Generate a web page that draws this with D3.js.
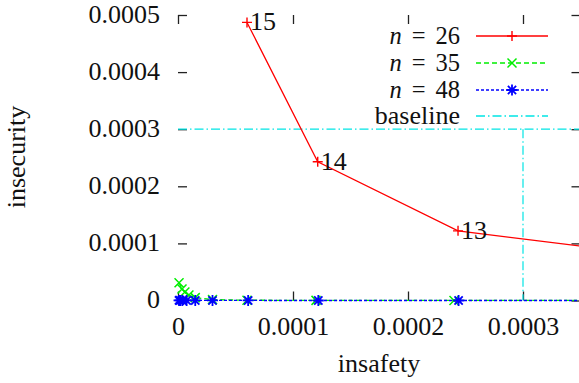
<!DOCTYPE html>
<html><head><meta charset="utf-8">
<script src="https://cdn.jsdelivr.net/npm/d3@7"></script>
<style>
html,body{margin:0;padding:0;background:#fff;}
svg{display:block;}
text{font-family:"Liberation Serif","Tinos","DejaVu Serif",serif;fill:#111;}
</style></head>
<body>
<svg id="chart" width="579" height="383"></svg>
<script>
// ---- data ----
const xTicks = [0, 0.0001, 0.0002, 0.0003];
const yTicks = [0, 0.0001, 0.0002, 0.0003, 0.0004, 0.0005];
const xTickLabels = ["0", "0.0001", "0.0002", "0.0003"];
const yTickLabels = ["0", "0.0001", "0.0002", "0.0003", "0.0004", "0.0005"];

const n26X = [6.0e-5, 1.215e-4, 2.435e-4, 4.87e-4];
const n26Y = [4.87e-4, 2.43e-4, 1.22e-4, 6.1e-5];
const n26Labels = ["15", "14", "13", "12"];

const n35X = [0.9e-6, 3.5e-6, 6.0e-6, 9.5e-6, 1.5e-5, 3.0e-5, 6.0e-5, 1.2e-4, 2.4e-4, 4.8e-4];
const n35Y = [3.1e-5, 2.0e-5, 1.5e-5, 9.6e-6, 5.0e-6, 1.5e-6, 5e-7, 2e-7, 1e-7, 5e-8];

const n48X = [0.9e-6, 1.9e-6, 3.75e-6, 7.5e-6, 1.5e-5, 3.0e-5, 6.1e-5, 1.22e-4, 2.44e-4, 4.88e-4];
const n48Y = [2e-7, 2e-7, 1e-7, 1e-7, 1e-7, 5e-8, 5e-8, 2e-8, 1e-8, 1e-8];

const baseH_X = [0, 0.0004];
const baseH_Y = [0.0003, 0.0003];
const baseV_X = [0.0003, 0.0003];
const baseV_Y = [0.0003, 0];

const legendLabels = [["n", "26"], ["n", "35"], ["n", "48"], [null, "baseline"]];

// ---- layout ----
const FONT = '"Liberation Serif","Tinos","DejaVu Serif",serif';
const svg = d3.select("#chart");
const x = d3.scaleLinear().domain([0, 0.00035]).range([178, 580.5]);
const y = d3.scaleLinear().domain([0, 0.0005]).range([300.5, 15]);
const FS = 26;
const LFS = 24.5;

svg.append("defs").append("clipPath").attr("id","clip")
  .append("rect").attr("x",x(0)-6).attr("y",y(0.0005))
  .attr("width",x(0.00035)-x(0)+6).attr("height",y(0)-y(0.0005)+6);

function styleAxis(g, showLabels){
  g.attr("font-family",FONT);
  g.select(".domain").remove();
  g.selectAll(".tick line").attr("stroke","#222").attr("stroke-width",1.3);
  g.selectAll(".tick text").attr("font-size",FS).attr("fill","#111")
    .attr("font-family",FONT);
  if(!showLabels) g.selectAll(".tick text").remove();
}

// axes (ticks inward, mirrored)
svg.append("g").attr("transform",`translate(${x(0)},0)`)
  .call(d3.axisLeft(y).tickValues(yTicks).tickSize(-9).tickPadding(18)
        .tickFormat((d,i)=>yTickLabels[i]))
  .call(g=>styleAxis(g,true))
  .call(g=>g.selectAll(".tick text").attr("dy","0.27em"));
svg.append("g").attr("transform",`translate(${x(0.00035)},0)`)
  .call(d3.axisRight(y).tickValues(yTicks).tickSize(-9))
  .call(g=>styleAxis(g,false));
svg.append("g").attr("transform",`translate(0,${y(0)})`)
  .call(d3.axisBottom(x).tickValues(xTicks).tickSize(-9).tickPadding(16)
        .tickFormat((d,i)=>xTickLabels[i]))
  .call(g=>styleAxis(g,true));
svg.append("g").attr("transform",`translate(0,${y(0.0005)})`)
  .call(d3.axisTop(x).tickValues(xTicks).tickSize(-9))
  .call(g=>styleAxis(g,false));

// axis titles
svg.append("text").attr("x",379).attr("y",372).attr("text-anchor","middle")
  .attr("font-size",FS).text("insafety");
svg.append("text").attr("transform","translate(25,157) rotate(-90)")
  .attr("text-anchor","middle").attr("font-size",FS).text("insecurity");

const plot = svg.append("g").attr("clip-path","url(#clip)");
const line = d3.line().x(d=>x(d[0])).y(d=>y(d[1]));
const zip = (a,b)=>a.map((v,i)=>[v,b[i]]);

// baseline
const cyan = "#00e5e5";
const baseDash = "9,3,1.5,3";
plot.append("path").datum(zip(baseH_X,baseH_Y)).attr("d",line)
  .attr("fill","none").attr("stroke",cyan).attr("stroke-width",1.2).attr("stroke-dasharray",baseDash);
plot.append("path").datum(zip(baseV_X,baseV_Y)).attr("d",line)
  .attr("fill","none").attr("stroke",cyan).attr("stroke-width",1.2).attr("stroke-dasharray",baseDash);

// marker drawing
function markerPath(type, s){
  if(type==="plus") return `M${-s},0H${s}M0,${-s}V${s}`;
  if(type==="cross") return `M${-s},${-s}L${s},${s}M${-s},${s}L${s},${-s}`;
  return `M${-s},0H${s}M0,${-s}V${s}M${-s*0.75},${-s*0.75}L${s*0.75},${s*0.75}M${-s*0.75},${s*0.75}L${s*0.75},${-s*0.75}`;
}
const series = [
  {xs:n35X, ys:n35Y, color:"#00ee00", dash:"5,3", marker:"cross", size:4.5, sw:1.5},
  {xs:n48X, ys:n48Y, color:"#0000ff", dash:"3,2", marker:"star", size:5.5, sw:1.8},
  {xs:n26X, ys:n26Y, color:"#ff0000", dash:null, marker:"plus", size:5, sw:1.4}
];
series.forEach(s=>{
  const pts = zip(s.xs,s.ys);
  const p = plot.append("path").datum(pts).attr("d",line).attr("fill","none")
    .attr("stroke",s.color).attr("stroke-width",1.3);
  if(s.dash) p.attr("stroke-dasharray",s.dash);
  plot.selectAll(null).data(pts).enter().append("path")
    .attr("transform",d=>`translate(${x(d[0])},${y(d[1])})`)
    .attr("d",markerPath(s.marker,s.size)).attr("fill","none")
    .attr("stroke",s.color).attr("stroke-width",s.sw);
});

// point labels for n=26
svg.selectAll(null).data(zip(n26X,n26Y).map((d,i)=>[d[0],d[1],n26Labels[i]])).enter()
  .filter(d=>d[0]<=0.00035).append("text")
  .attr("x",d=>x(d[0])+3).attr("y",d=>y(d[1])+8)
  .attr("font-size",FS).text(d=>d[2]);

// legend
const legItems = [
  {color:"#ff0000", dash:null, marker:"plus", size:5, sw:1.4},
  {color:"#00ee00", dash:"5,3", marker:"cross", size:4.5, sw:1.5},
  {color:"#0000ff", dash:"3,2", marker:"star", size:5.5, sw:1.8},
  {color:cyan, dash:baseDash, marker:null}
];
const legY = [36, 63, 90, 116];
legItems.forEach((it,i)=>{
  const ly = legY[i];
  const t = svg.append("text").attr("x",460).attr("y",ly+8).attr("text-anchor","end").attr("font-size",LFS);
  const lab = legendLabels[i];
  if(lab[0]){
    t.append("tspan").attr("font-style","italic").text(lab[0]);
    t.append("tspan").attr("dx",10).text("=");
    t.append("tspan").attr("dx",10).text(lab[1]);
  } else t.attr("font-size",FS).text(lab[1]);
  const l = svg.append("line").attr("x1",476).attr("x2",548).attr("y1",ly).attr("y2",ly)
    .attr("stroke",it.color).attr("stroke-width",1.3);
  if(it.dash) l.attr("stroke-dasharray",it.dash);
  if(it.marker) svg.append("path").attr("transform",`translate(512,${ly})`)
    .attr("d",markerPath(it.marker,it.size)).attr("fill","none")
    .attr("stroke",it.color).attr("stroke-width",it.sw);
});
</script>
</body></html>
